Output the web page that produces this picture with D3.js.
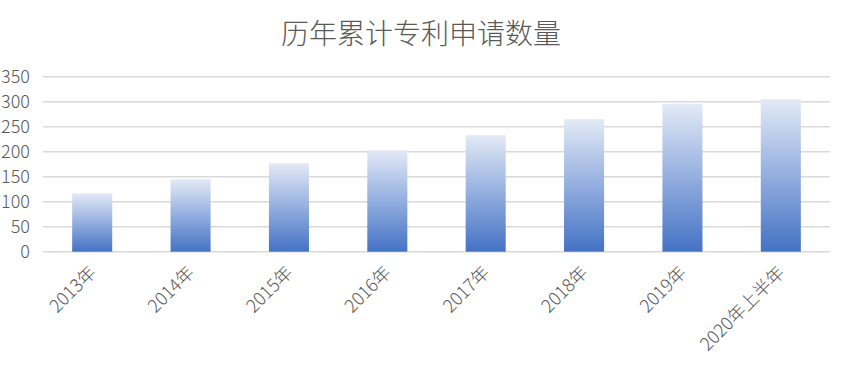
<!DOCTYPE html>
<html lang="zh">
<head>
	<meta charset="utf-8"/>
	<title>历年累计专利申请数量</title>
	<script src="https://d3js.org/d3.v7.min.js" charset="utf-8"></script>
	<style>
		body { margin: 0; background: #fff; }
		text { font-family: "Noto Sans CJK SC", "Open Sans", sans-serif; font-weight: 300; fill: #595959; }
		.grid line { stroke: #d9d9d9; stroke-width: 1.6px; }
		.axis .domain, .axis line { display: none; }
	</style>
</head>
<body>
<div id="chart"></div>

<script>
	// data
	var years = ["2013年", "2014年", "2015年", "2016年", "2017年", "2018年", "2019年", "2020年上半年"];
	var counts = [117, 145, 177, 203, 233, 265, 296, 305];
	var yTicks = [0, 50, 100, 150, 200, 250, 300, 350];

	var width = 842,
		height = 368;

	var m = {top: 76.7, right: 12, bottom: 116.3, left: 43};

	var svg = d3.select("#chart").append("svg")
		.attr("width", width)
		.attr("height", height);

	// vertical gradient, light at the top, blue at the bottom
	var grad = svg.append("defs").append("linearGradient")
		.attr("id", "barFill")
		.attr("x1", 0).attr("y1", 0)
		.attr("x2", 0).attr("y2", 1);
	grad.append("stop").attr("offset", "0%").attr("stop-color", "#e3eaf6");
	grad.append("stop").attr("offset", "50%").attr("stop-color", "#93aedf");
	grad.append("stop").attr("offset", "100%").attr("stop-color", "#4472c4");

	var x = d3.scaleBand()
		.domain(years)
		.range([m.left, width - m.right])
		.paddingInner(0.593)
		.paddingOuter(0.593 / 2);

	var y = d3.scaleLinear()
		.domain([0, 350])
		.range([height - m.bottom, m.top]);

	// title
	svg.append("text")
		.attr("x", 421)
		.attr("y", 44)
		.attr("text-anchor", "middle")
		.style("font-size", "28px")
		.text("历年累计专利申请数量");

	// gridlines
	svg.append("g")
		.attr("class", "grid")
		.selectAll("line")
		.data(yTicks)
		.enter().append("line")
		.attr("x1", m.left)
		.attr("x2", width - m.right)
		.attr("y1", function(d) { return y(d); })
		.attr("y2", function(d) { return y(d); });

	// y axis labels
	svg.append("g")
		.attr("class", "axis")
		.attr("transform", "translate(" + (m.left - 13) + ",0)")
		.call(d3.axisLeft(y).tickValues(yTicks).tickSize(0).tickPadding(0))
		.selectAll("text")
		.style("font-size", "18px")
		.attr("fill", "#595959");

	// bars
	svg.append("g")
		.selectAll("rect")
		.data(counts)
		.enter().append("rect")
		.attr("x", function(d, i) { return x(years[i]); })
		.attr("y", function(d) { return y(d); })
		.attr("width", x.bandwidth())
		.attr("height", function(d) { return y(0) - y(d); })
		.attr("fill", "url(#barFill)");

	// x axis labels, rotated
	svg.append("g")
		.attr("class", "axis")
		.attr("transform", "translate(0," + y(0) + ")")
		.call(d3.axisBottom(x).tickSize(0).tickPadding(0))
		.selectAll("text")
		.style("font-size", "18px")
		.attr("fill", "#595959")
		.style("text-anchor", "end")
		.attr("dy", "0")
		.attr("transform", "translate(5,22) rotate(-45)");
</script>
</body>
</html>
